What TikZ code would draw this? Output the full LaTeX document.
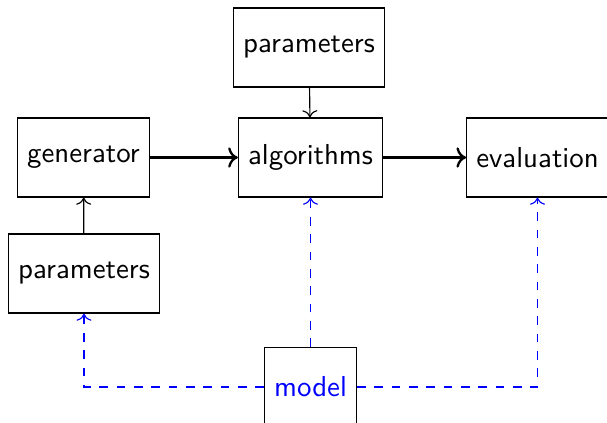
\documentclass[tikz,border=0pt]{standalone}
\usepackage{tikz}
\usetikzlibrary{arrows.meta,positioning,calc}
\usepackage{xcolor}

\begin{document}
\begin{tikzpicture}[x=0.01218cm,y=-0.01218cm,font=\sffamily,
  blk/.style={draw,minimum height=0.962cm,inner sep=0.3333em},
  flow/.style={->,thick},
  feed/.style={->},
  mdl/.style={->,blue,dashed}]
\useasboundingbox (0,0) rectangle (607,423);
\node[blk] (partop) at (309,47.5) {parameters};
\node[blk] (gen) at (83.5,157.5) {generator};
\node[blk] (alg) at (310.5,157.5) {algorithms};
\node[blk] (eval) at (537.5,157.5) {evaluation};
\node[blk] (parbot) at (84,273.5) {parameters};
\node[blk,text=blue] (model) at (310.5,387) {model};
\draw[flow] (gen) -- (alg);
\draw[flow] (alg) -- (eval);
\draw[feed] (partop) -- (alg);
\draw[feed] (parbot) -- (gen);
\draw[mdl] (model) -- (alg);
\draw[mdl] (model.west) -| (parbot.south);
\draw[mdl] (model.east) -| (eval.south);
\end{tikzpicture}
\end{document}
